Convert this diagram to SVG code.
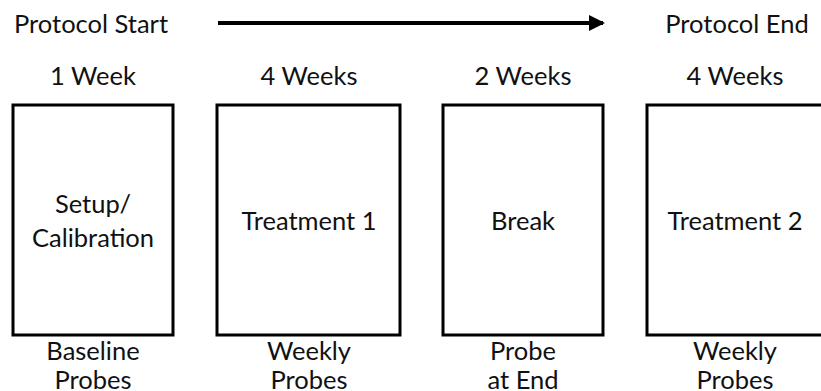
<svg xmlns="http://www.w3.org/2000/svg" width="821" height="391" viewBox="0 0 821 391">
<style>
text{font-family:Lato,"Open Sans","Liberation Sans",sans-serif;font-size:25.5px;fill:#111;text-anchor:middle}
.box{fill:#fff;stroke:#000;stroke-width:3}
</style>
<defs>
<marker id="ah" markerWidth="4" markerHeight="4" refX="3.5" refY="2" orient="auto" markerUnits="strokeWidth"><path d="M0,0 L4,2 L0,4 Z" fill="#000"/></marker>
</defs>
<rect width="821" height="391" fill="#fff"/>
<text x="14" y="33" style="text-anchor:start">Protocol Start</text>
<text x="737" y="33">Protocol End</text>
<g id="connectors"><line x1="218" y1="23" x2="603" y2="23" stroke="#000" stroke-width="4" marker-end="url(#ah)"/></g>
<g id="setup">
<text x="93" y="85">1 Week</text>
<rect class="box" x="13" y="105" width="160" height="230"/>
<text x="93" y="213">Setup/</text>
<text x="93" y="247">Calibration</text>
<text x="93" y="360">Baseline</text>
<text x="93" y="389">Probes</text>
</g>
<g id="treatment1">
<text x="309" y="85">4 Weeks</text>
<rect class="box" x="217" y="105" width="183" height="230"/>
<text x="309" y="230">Treatment 1</text>
<text x="309" y="360">Weekly</text>
<text x="309" y="389">Probes</text>
</g>
<g id="break">
<text x="523" y="85">2 Weeks</text>
<rect class="box" x="443" y="105" width="160" height="230"/>
<text x="523" y="230">Break</text>
<text x="523" y="360">Probe</text>
<text x="523" y="389">at End</text>
</g>
<g id="treatment2">
<text x="735" y="85">4 Weeks</text>
<rect class="box" x="647" y="105" width="190" height="230"/>
<text x="735" y="230">Treatment 2</text>
<text x="735" y="360">Weekly</text>
<text x="735" y="389">Probes</text>
</g>
</svg>
